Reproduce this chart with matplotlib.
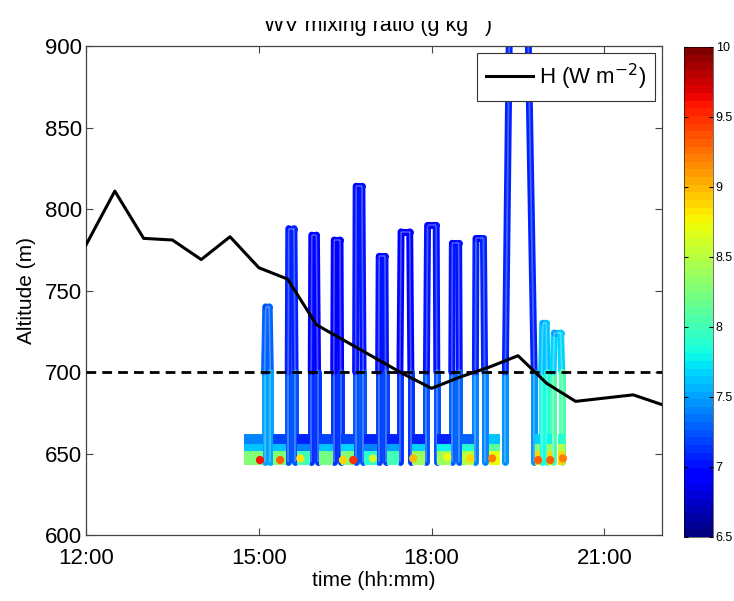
import numpy as np
import matplotlib
matplotlib.use("Agg")
import matplotlib.pyplot as plt
from matplotlib.collections import LineCollection
from matplotlib.colors import Normalize
from matplotlib.patches import Rectangle

plt.rcParams["font.family"] = ["Liberation Sans", "DejaVu Sans"]

# ── sensible heat flux line (time in hours, plotted on altitude axis) ─────────
h_time = [12.0, 12.5, 13.0, 13.5, 14.0, 14.5, 15.0, 15.5, 16.0, 16.5, 17.0,
          17.5, 18.0, 18.5, 19.0, 19.5, 20.0, 20.5, 21.0, 21.5, 22.0]
h_alt = [778, 811, 782, 781, 769, 783, 764, 757, 729, 719, 709,
         699, 690, 697, 703, 710, 693, 682, 684, 686, 680]
pbl_alt = 700

# ── flight profiles (hairpins) ───────────────────────────────────────────────
t_up_bot   = [15.10, 15.51, 15.91, 16.30, 16.68, 17.08, 17.45, 17.91, 18.35, 18.76, 19.28, 19.91, 20.11]
t_up_top   = [15.12, 15.52, 15.92, 16.31, 16.69, 17.09, 17.47, 17.93, 18.36, 18.77, 19.36, 19.93, 20.13]
t_down_top = [15.18, 15.61, 16.00, 16.41, 16.79, 17.19, 17.62, 18.08, 18.47, 18.90, 19.66, 19.99, 20.24]
t_down_bot = [15.20, 15.63, 16.02, 16.42, 16.81, 17.20, 17.64, 18.09, 18.48, 18.92, 19.78, 20.00, 20.26]
prof_top   = [740, 788, 784, 781, 814, 771, 786, 790, 779, 782, 940, 730, 724]
wv_bot     = [7.6, 7.4, 7.3, 7.3, 7.4, 7.3, 7.3, 7.4, 7.5, 7.6, 7.8, 8.0, 8.3]
wv_mid     = [7.4, 7.1, 7.0, 7.0, 7.1, 7.1, 7.0, 7.1, 7.1, 7.2, 7.1, 7.7, 7.8]
wv_top     = [7.2, 7.0, 6.9, 6.9, 6.9, 6.9, 6.9, 6.9, 6.9, 6.9, 7.0, 7.5, 7.5]

# ── low-level legs near the surface ──────────────────────────────────────────
blob_t0 = [14.74, 15.25, 15.66, 16.05, 16.43, 16.83, 17.22, 17.66, 18.09, 18.53, 18.99, 19.80, 20.01, 20.20]
blob_t1 = [15.07, 15.48, 15.88, 16.28, 16.66, 17.06, 17.43, 17.89, 18.34, 18.74, 19.18, 19.88, 20.09, 20.31]
blob_wv_hi  = [7.4, 7.2, 7.1, 7.2, 7.2, 7.1, 7.1, 7.1, 7.1, 7.3, 7.6, 7.7, 7.8, 7.9]
blob_wv_mid = [7.6, 7.6, 7.4, 7.6, 7.7, 7.4, 7.5, 7.7, 7.8, 7.9, 8.1, 8.3, 8.4, 8.5]
blob_wv_lo  = [8.3, 8.3, 8.0, 8.2, 8.3, 7.9, 8.0, 8.4, 8.4, 8.5, 8.7, 8.9, 8.9, 8.9]
blob_alts = [657.5, 651.5, 647]

# ── moist spots at the lowest level ──────────────────────────────────────────
hot_t   = [15.02, 15.37, 15.72, 16.46, 16.64, 16.98, 17.68, 18.27, 18.67, 19.05, 19.85, 20.06, 20.28]
hot_alt = [646, 646, 647, 646, 646, 647, 647, 648, 647, 647, 646, 646, 647]
hot_wv  = [9.6, 9.3, 8.8, 8.9, 9.5, 8.6, 9.0, 8.7, 8.9, 9.2, 9.3, 9.3, 9.2]

cbar_ticks = [6.5, 7, 7.5, 8, 8.5, 9, 9.5, 10]
cbar_labels = ["6.5", "7", "7.5", "8", "8.5", "9", "9.5", "10"]
x_ticks = [12, 15, 18, 21]
x_labels = ["12:00", "15:00", "18:00", "21:00"]

cmap = plt.get_cmap("jet", 64)
norm = Normalize(6.5, 10)

fig = plt.figure(figsize=(7.34, 6.01), dpi=100)
ax = fig.add_axes([0.1172, 0.1098, 0.7847, 0.8136])
cax = fig.add_axes([0.9319, 0.1065, 0.0395, 0.8153])

# profile legs
segs, vals = [], []
for i in range(len(prof_top)):
    pts = [(t_up_bot[i], 645, wv_bot[i]), (t_up_bot[i], 700, wv_mid[i]),
           (t_up_top[i], prof_top[i], wv_top[i]), (t_down_top[i], prof_top[i], wv_top[i]),
           (t_down_bot[i], 700, wv_mid[i]), (t_down_bot[i], 645, wv_bot[i])]
    for p, q in zip(pts[:-1], pts[1:]):
        segs.append([(p[0], p[1]), (q[0], q[1])])
        vals.append(0.5 * (p[2] + q[2]))
lc = LineCollection(segs, cmap=cmap, norm=norm, linewidths=5.0, capstyle="round")
lc.set_array(np.array(vals))
ax.add_collection(lc)
ax.add_collection(LineCollection(segs, colors="white", linewidths=1.2, alpha=0.3))

# surface legs, on top of the profile feet
for alt, wv in zip(blob_alts, [blob_wv_hi, blob_wv_mid, blob_wv_lo]):
    bsegs = [[(a, alt), (b, alt)] for a, b in zip(blob_t0, blob_t1)]
    blc = LineCollection(bsegs, cmap=cmap, norm=norm, linewidths=10.0,
                         capstyle="butt", zorder=2.3)
    blc.set_array(np.array(wv))
    ax.add_collection(blc)

ax.scatter(hot_t, hot_alt, c=hot_wv, cmap=cmap, norm=norm, s=24,
           edgecolors="face", linewidths=1, zorder=2.5)

ax.plot(h_time, h_alt, color="black", lw=2.2, label="H (W m$^{-2}$)", zorder=4)
ax.axhline(pbl_alt, color="black", lw=2, ls=(0, (3.5, 2.2)), zorder=4)

ax.set_xlim(12, 22)
ax.set_ylim(600, 900)
ax.set_xticks(x_ticks)
ax.set_xticklabels(x_labels)
ax.set_yticks(np.arange(600, 901, 50))
ax.tick_params(direction="in", top=True, right=True, length=5, width=0.8,
               color="#444444", labelsize=16)
ax.tick_params(axis="y", pad=3)
ax.tick_params(axis="x", pad=9)
for s in ax.spines.values():
    s.set_color("#444444")
    s.set_linewidth(0.9)
ax.set_xlabel("time (hh:mm)", fontsize=15, labelpad=2)
ax.set_ylabel("Altitude (m)", fontsize=15, labelpad=6)

# title in pieces: the exponent sits above the cut-off line, like the original
fig.text(468 / 734, 1 - 31 / 601, "WV mixing ratio (g kg", fontsize=15.5,
         ha="right", va="baseline")
fig.text(469 / 734, 1 - 12 / 601, "-1", fontsize=11, ha="left", va="baseline")
fig.text(485 / 734, 1 - 31 / 601, ")", fontsize=15.5, ha="left", va="baseline")

leg = ax.legend(loc="upper right", fontsize=16, frameon=True, fancybox=False,
                framealpha=1, edgecolor="#333333", borderaxespad=0.3,
                handlelength=2.1, handletextpad=0.3, borderpad=0.4)
leg.get_frame().set_linewidth(0.8)
leg.set_zorder(10)

sm = plt.cm.ScalarMappable(norm=norm, cmap=cmap)
cb = fig.colorbar(sm, cax=cax, ticks=cbar_ticks)
cb.ax.set_yticklabels(cbar_labels)
cb.ax.tick_params(labelsize=9, direction="in", left=True, right=True, length=3, pad=2)
cb.outline.set_linewidth(0.4)

# top of the title is cut off in the original figure
fig.patches.append(Rectangle((0, 1 - 20.5 / 601), 1, 0.04, transform=fig.transFigure,
                             facecolor="white", edgecolor="none", zorder=100))

fig.savefig("out.png", dpi=100)
